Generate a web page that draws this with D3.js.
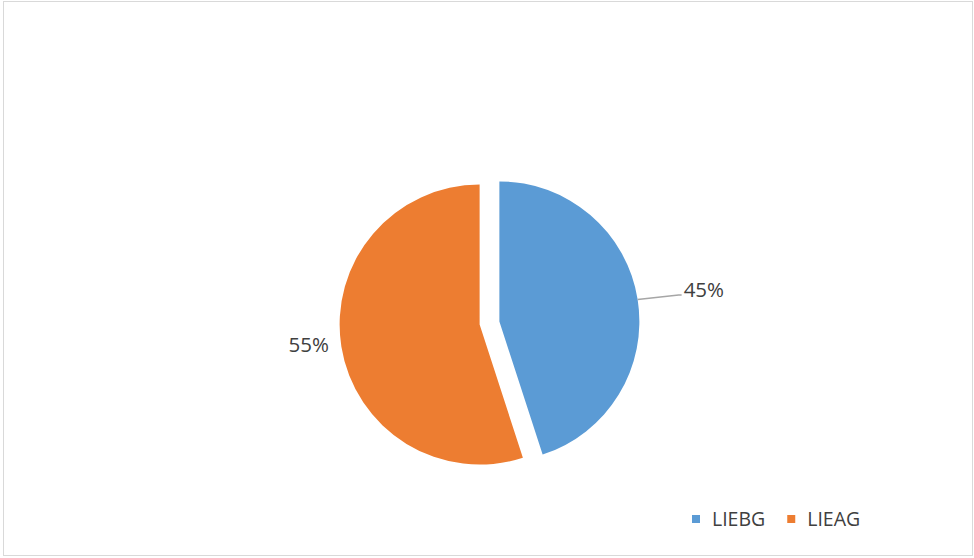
<!DOCTYPE html>
<html>
<head>
<meta charset="utf-8">
<script src="https://cdn.jsdelivr.net/npm/d3@7"></script>
<style>
  body { margin: 0; background: #fff; }
  svg { display: block; font-family: "Open Sans", sans-serif; }
</style>
</head>
<body>
<svg width="974" height="558"></svg>
<script>
// data
var categories = ["LIEBG", "LIEAG"];
var values = [45, 55];
var colors = ["#5B9BD5", "#ED7D31"];

var svg = d3.select("svg");

// chart border
svg.append("rect")
    .attr("x", 3.5).attr("y", 1.5)
    .attr("width", 969).attr("height", 554)
    .attr("fill", "#fff")
    .attr("stroke", "#d9d9d9")
    .attr("stroke-width", 1);

var cx = 489.5, cy = 323, radius = 140, explode = 10;

var pie = d3.pie().sort(null).value(function (d) { return d; });
var arc = d3.arc().innerRadius(0).outerRadius(radius);
var total = d3.sum(values);

var slices = pie(values);

var g = svg.append("g")
    .attr("transform", "translate(" + cx + "," + cy + ")");

function dir(d) {
    var a = (d.startAngle + d.endAngle) / 2;
    return [Math.sin(a), -Math.cos(a)];
}

g.selectAll(".slice")
    .data(slices)
    .enter().append("path")
    .attr("class", "slice")
    .attr("transform", function (d) {
        var v = dir(d);
        return "translate(" + (v[0] * explode) + "," + (v[1] * explode) + ")";
    })
    .attr("d", arc)
    .attr("fill", function (d, i) { return colors[i]; });

// data labels: extra distance beyond the arc, vertical nudge, leader line or not
var labelGap = [67, 33];
var labelNudge = [1, -7];
var leader = [true, false];

slices.forEach(function (d, i) {
    var v = dir(d);
    var ox = v[0] * explode, oy = v[1] * explode;
    var lr = radius + labelGap[i];
    var lx = ox + v[0] * lr, ly = oy + v[1] * lr + labelNudge[i];
    var txt = Math.round(d.value / total * 100) + "%";
    var t = g.append("text")
        .attr("x", lx).attr("y", ly)
        .attr("text-anchor", "middle")
        .attr("dy", "0.35em")
        .attr("fill", "#404040")
        .attr("font-size", 20.5)
        .text(txt);
    if (leader[i]) {
        var w = t.node().getComputedTextLength();
        var sx = ox + v[0] * radius, sy = oy + v[1] * radius;
        g.insert("polyline", "text")
            .attr("points", [[sx, sy], [lx - w / 2 - 5, ly + 5], [lx - w / 2 - 2, ly + 5]].join(" "))
            .attr("fill", "none")
            .attr("stroke", "#a6a6a6")
            .attr("stroke-width", 1.5);
    }
});

// legend
var legend = svg.append("g").attr("transform", "translate(692,519)");
var lx = 0;
categories.forEach(function (c, i) {
    var item = legend.append("g").attr("transform", "translate(" + lx + ",0)");
    item.append("rect")
        .attr("x", 0).attr("y", -4)
        .attr("width", 8).attr("height", 8)
        .attr("fill", colors[i]);
    var t = item.append("text")
        .attr("x", 20).attr("y", 0)
        .attr("dy", "0.35em")
        .attr("fill", "#404040")
        .attr("font-size", 19.5)
        .text(c);
    lx += 20 + t.node().getComputedTextLength() + 22;
});
</script>
</body>
</html>
